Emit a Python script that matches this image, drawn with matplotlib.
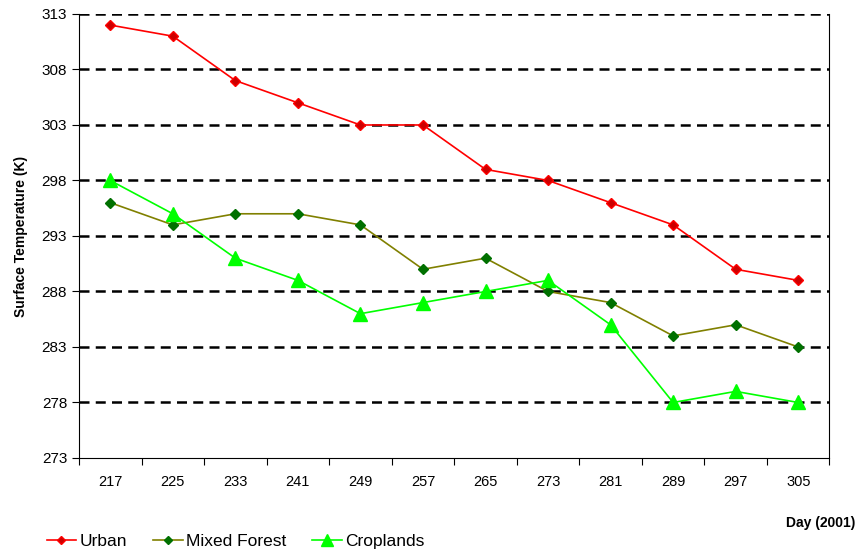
import matplotlib.pyplot as plt

plt.rcParams['font.family'] = ['Liberation Sans', 'DejaVu Sans']

days = ["217", "225", "233", "241", "249", "257", "265", "273", "281", "289", "297", "305"]
urban = [312, 311, 307, 305, 303, 303, 299, 298, 296, 294, 290, 289]
mixed_forest = [296, 294, 295, 295, 294, 290, 291, 288, 287, 284, 285, 283]
croplands = [298, 295, 291, 289, 286, 287, 288, 289, 285, 278, 279, 278]
yticks = [273, 278, 283, 288, 293, 298, 303, 308, 313]

fig = plt.figure(figsize=(8.57, 5.55), dpi=100)
ax = fig.add_axes([0.0922, 0.1748, 0.8757, 0.8])

x = list(range(len(days)))
ax.plot(x, urban, color="#FF0000", lw=1.2, marker="D", ms=5,
        mfc="#CC0000", mec="#FF0000", label="Urban")
ax.plot(x, mixed_forest, color="#808000", lw=1.2, marker="D", ms=5,
        mfc="#007000", mec="#007000", label="Mixed Forest")
ax.plot(x, croplands, color="#00FF00", lw=1.2, marker="^", ms=10,
        mfc="#00FF00", mec="#00FF00", label="Croplands")

ax.set_xlim(-0.5, len(days) - 0.5)
ax.set_ylim(273, 313)
ax.set_yticks(yticks)
for yv in yticks[1:]:
    ax.axhline(yv, color="black", ls=(0, (4, 2.5)), lw=1.8, zorder=0)

# category labels sit between the tick marks, like a spreadsheet chart
ax.set_xticks([i - 0.5 for i in range(len(days) + 1)])
ax.set_xticklabels([])
ax.set_xticks(x, minor=True)
ax.set_xticklabels(days, minor=True, fontsize=10.5)
ax.tick_params(axis="x", which="minor", length=0, pad=12)
ax.tick_params(axis="x", which="major", direction="out", length=5)
ax.tick_params(axis="y", direction="out", length=5, labelsize=11)

ax.spines["top"].set_visible(False)
ax.spines["right"].set_linewidth(0.8)

ax.set_ylabel("Surface Temperature (K)", fontsize=10, fontweight="bold", labelpad=10)
fig.text(0.998, 0.058, "Day (2001)", ha="right", va="center",
         fontsize=10, fontweight="bold")

fig.legend(loc="center", bbox_to_anchor=(0.275, 0.025), ncol=3, frameon=False,
           fontsize=12.5, handlelength=1.7, columnspacing=1.5, handletextpad=0.2,
           markerscale=0.8)

fig.savefig("out.png", dpi=100)
